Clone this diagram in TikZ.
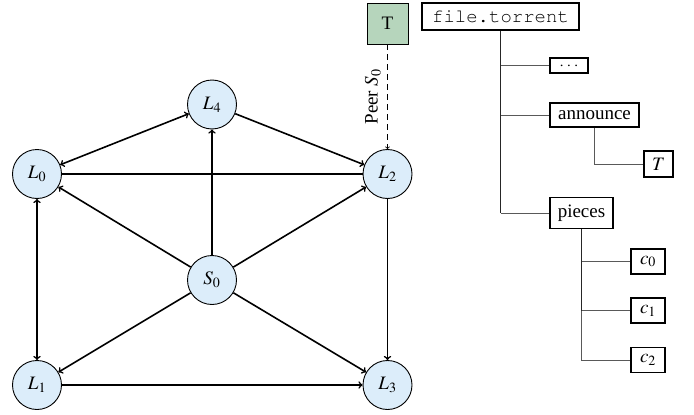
\documentclass[tikz,border=0pt]{standalone}
\usepackage{mathptmx}
\usepackage[T1]{fontenc}
\usepackage{fontspec}
\setmainfont{Liberation Serif}
\definecolor{peerblue}{RGB}{220,237,250}
\definecolor{trackgreen}{RGB}{182,213,188}
\newcommand{\courier}{\fontencoding{T1}\fontfamily{pcr}\selectfont}
\begin{document}
\begin{tikzpicture}[x=1pt,y=-1pt,
  font=\fontsize{19}{22}\selectfont,
  peer/.style={circle,draw,line width=0.9pt,fill=peerblue,minimum size=49pt,inner sep=0pt},
  link/.style={line width=1.6pt},
  arr/.style={link,->},
  dbl/.style={link,<->},
  tbox/.style={draw,line width=1.5pt,inner sep=0pt},
  branch/.style={line width=1pt,draw=black!65},
  trunk/.style={line width=1.2pt,draw=black!85}]
\useasboundingbox (0,0) rectangle (694,415);
% graph nodes
\node[peer] (L0) at (37,174) {$L_0$};
\node[peer] (L4) at (212,104.5) {$L_4$};
\node[peer] (L2) at (387.5,174) {$L_2$};
\node[peer] (S0) at (212,280) {$S_0$};
\node[peer] (L1) at (37,385) {$L_1$};
\node[peer] (L3) at (387.5,385) {$L_3$};
\node[tbox,fill=trackgreen,line width=0.9pt,minimum width=41pt,minimum height=41pt] (T) at (387.5,23.5) {T};
% graph edges
\draw[dbl] (L0) -- (L4);
\draw[arr] (L4) -- (L2);
\draw[link] (L0) -- (L2);
\draw[arr] (S0) -- (L0);
\draw[arr] (S0) -- (L4);
\draw[arr] (S0) -- (L2);
\draw[arr] (S0) -- (L1);
\draw[arr] (S0) -- (L3);
\draw[dbl] (L0) -- (L1);
\draw[arr] (L2) -- (L3);
\draw[arr] (L1) -- (L3);
\draw[->,dashed,line width=0.8pt,dash pattern=on 6pt off 4pt] (T) -- (L2)
  node[midway,rotate=90,above=3pt] {Peer $S_0$};
% tree
\node[tbox,minimum width=157pt,minimum height=27pt] (ft) at (500.5,16.5) {\courier file.torrent};
\node[tbox,minimum width=38pt,minimum height=15pt,font=\fontsize{12}{14}\selectfont] (dots) at (569,65.5) {\courier ...};
\node[tbox,minimum width=89pt,minimum height=24pt] (ann) at (594.5,115) {announce};
\node[tbox,minimum width=29pt,minimum height=26pt] (Tt) at (658.5,164) {$T$};
\node[tbox,minimum width=63pt,minimum height=31pt] (pcs) at (581.5,213) {pieces};
\node[tbox,minimum width=34pt,minimum height=25pt] (c0) at (648,261.5) {$c_0$};
\node[tbox,minimum width=34pt,minimum height=25pt] (c1) at (648,310.5) {$c_1$};
\node[tbox,minimum width=34pt,minimum height=25pt] (c2) at (648,360) {$c_2$};
\draw[trunk] (ft.south) -- (ft.south |- pcs.west);
\draw[branch] (ft.south |- dots.west) -- (dots.west);
\draw[branch] (ft.south |- ann.west) -- (ann.west);
\draw[branch] (ft.south |- pcs.west) -- (pcs.west);
\draw[branch] (ann.south) |- (Tt.west);
\draw[trunk] (pcs.south) -- (pcs.south |- c1.west);
\draw[branch] (pcs.south |- c0.west) -- (c0.west);
\draw[branch] (pcs.south |- c1.west) -- (c1.west);
\draw[branch] (pcs.south |- c1.west) |- (c2.west);
\end{tikzpicture}
\end{document}
